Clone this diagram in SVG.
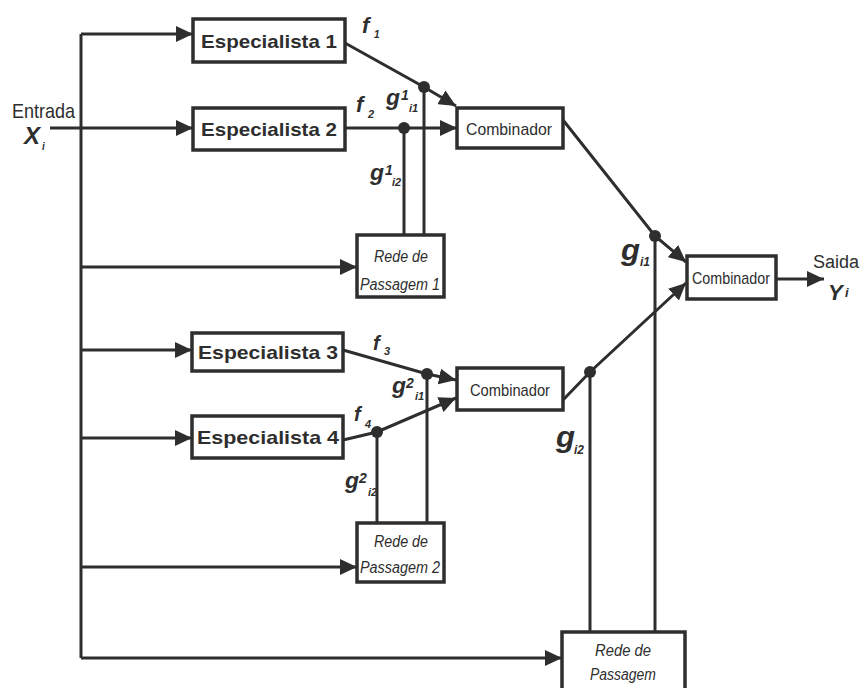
<svg xmlns="http://www.w3.org/2000/svg" width="864" height="688" viewBox="0 0 864 688">
<defs>
<marker id="arr" markerUnits="userSpaceOnUse" markerWidth="18" markerHeight="16" refX="17" refY="8" orient="auto">
<path d="M0,0 L17,8 L0,16 z" fill="#2e2e2e"/>
</marker>
</defs>
<style>
.box{fill:#fff;stroke:#2e2e2e;stroke-width:3.5}
.ln{fill:none;stroke:#2e2e2e;stroke-width:3}
.ar{fill:none;stroke:#2e2e2e;stroke-width:3;marker-end:url(#arr)}
.dot{fill:#2e2e2e}
.esp{font-family:"Liberation Sans",Arial,sans-serif;font-weight:bold;font-size:19px;fill:#2e2e2e;text-anchor:middle}
.cmb{font-family:"Liberation Sans",Arial,sans-serif;font-size:17px;fill:#2e2e2e;text-anchor:middle}
.rede{font-family:"Liberation Sans",Arial,sans-serif;font-style:italic;font-size:16px;fill:#2e2e2e;text-anchor:middle}
.lbl{font-family:"Liberation Sans",Arial,sans-serif;font-style:italic;font-weight:bold;fill:#2e2e2e}
.io{font-family:"Liberation Sans",Arial,sans-serif;font-size:21px;fill:#2e2e2e}
</style>
<rect width="864" height="688" fill="#fff"/>
<g id="connectors">
<path class="ln" d="M81,34 V658"/>
<path class="ar" d="M81,34 H193"/>
<path class="ar" d="M50,128 H193"/>
<path class="ar" d="M81,267 H357"/>
<path class="ar" d="M81,350 H192"/>
<path class="ar" d="M81,438 H192"/>
<path class="ar" d="M81,567 H357"/>
<path class="ar" d="M81,658 H562"/>
<path class="ar" d="M345,43 L424,87 L456,106"/>
<path class="ar" d="M345,128 H457"/>
<path class="ln" d="M404,128 V235 M424,87 V235"/>
<path class="ar" d="M563,120 L655,236 L686,262"/>
<path class="ln" d="M655,236 V632"/>
<path class="ar" d="M343,350 L427,374 L456,380"/>
<path class="ar" d="M343,440 L377,432 L456,398"/>
<path class="ln" d="M377,432 V523 M427,374 V523"/>
<path class="ar" d="M563,400 L590,372 L686,283"/>
<path class="ln" d="M590,372 V632"/>
<path class="ar" d="M776,279 H824"/>
<circle class="dot" cx="404" cy="128" r="6"/>
<circle class="dot" cx="424" cy="87" r="6"/>
<circle class="dot" cx="655" cy="236" r="6"/>
<circle class="dot" cx="427" cy="374" r="6"/>
<circle class="dot" cx="377" cy="432" r="6"/>
<circle class="dot" cx="590" cy="372" r="6"/>
</g>
<g id="esp1"><rect class="box" x="193" y="19" width="152" height="43"/><text class="esp" x="269" y="48" textLength="136" lengthAdjust="spacingAndGlyphs">Especialista 1</text></g>
<g id="esp2"><rect class="box" x="193" y="108" width="152" height="42"/><text class="esp" x="269" y="136" textLength="136" lengthAdjust="spacingAndGlyphs">Especialista 2</text></g>
<g id="esp3"><rect class="box" x="192" y="333" width="151" height="38"/><text class="esp" x="268" y="359" textLength="140" lengthAdjust="spacingAndGlyphs">Especialista 3</text></g>
<g id="esp4"><rect class="box" x="192" y="416" width="151" height="42"/><text class="esp" x="268" y="444" textLength="142" lengthAdjust="spacingAndGlyphs">Especialista 4</text></g>
<g id="comb1"><rect class="box" x="457" y="108" width="106" height="40"/><text class="cmb" x="509" y="135" textLength="86" lengthAdjust="spacingAndGlyphs">Combinador</text></g>
<g id="comb2"><rect class="box" x="457" y="368" width="106" height="42"/><text class="cmb" x="510" y="396" textLength="80" lengthAdjust="spacingAndGlyphs">Combinador</text></g>
<g id="comb3"><rect class="box" x="687" y="256" width="89" height="43"/><text class="cmb" x="731" y="284" textLength="78" lengthAdjust="spacingAndGlyphs">Combinador</text></g>
<g id="rede1"><rect class="box" x="357" y="235" width="87" height="62"/><text class="rede" x="401" y="262" textLength="54" lengthAdjust="spacingAndGlyphs">Rede de</text><text class="rede" x="400" y="290" textLength="80" lengthAdjust="spacingAndGlyphs">Passagem 1</text></g>
<g id="rede2"><rect class="box" x="357" y="523" width="87" height="59"/><text class="rede" x="401" y="547" textLength="54" lengthAdjust="spacingAndGlyphs">Rede de</text><text class="rede" x="400" y="573" textLength="80" lengthAdjust="spacingAndGlyphs">Passagem 2</text></g>
<g id="rede3"><rect class="box" x="562" y="632" width="123" height="70"/><text class="rede" x="623" y="656" textLength="56" lengthAdjust="spacingAndGlyphs">Rede de</text><text class="rede" x="623" y="680" textLength="66" lengthAdjust="spacingAndGlyphs">Passagem</text></g>
<g id="entrada"><text class="io" x="12" y="118" textLength="63" lengthAdjust="spacingAndGlyphs">Entrada</text><text class="lbl" x="24" y="144" font-size="24">X</text><text class="lbl" x="42" y="150" font-size="10">i</text></g>
<g id="saida"><text class="io" x="813" y="268" font-size="18" style="font-size:18px">Saida</text><text class="lbl" x="828" y="300" font-size="22">Y</text><text class="lbl" x="845" y="297" font-size="13">i</text></g>
<g id="labels">
<text class="lbl" x="362" y="33" font-size="22">f</text><text class="lbl" x="374" y="38" font-size="10">1</text>
<text class="lbl" x="356" y="112" font-size="22">f</text><text class="lbl" x="368" y="118" font-size="11">2</text>
<text class="lbl" x="373" y="350" font-size="20">f</text><text class="lbl" x="384" y="355" font-size="11">3</text>
<text class="lbl" x="354" y="421" font-size="20">f</text><text class="lbl" x="365" y="428" font-size="11">4</text>
<text class="lbl" x="386" y="105" font-size="22" textLength="14" lengthAdjust="spacingAndGlyphs">g</text><text class="lbl" x="401" y="100" font-size="14">1</text><text class="lbl" x="409" y="112" font-size="11">i1</text>
<text class="lbl" x="370" y="180" font-size="22" textLength="14" lengthAdjust="spacingAndGlyphs">g</text><text class="lbl" x="385" y="175" font-size="14">1</text><text class="lbl" x="392" y="186" font-size="11">i2</text>
<text class="lbl" x="392" y="393" font-size="22" textLength="14" lengthAdjust="spacingAndGlyphs">g</text><text class="lbl" x="406" y="388" font-size="14">2</text><text class="lbl" x="415" y="400" font-size="11">i1</text>
<text class="lbl" x="345" y="488" font-size="22" textLength="14" lengthAdjust="spacingAndGlyphs">g</text><text class="lbl" x="359" y="483" font-size="14">2</text><text class="lbl" x="368" y="496" font-size="11">i2</text>
<text class="lbl" x="621" y="260" font-size="30" textLength="19" lengthAdjust="spacingAndGlyphs">g</text><text class="lbl" x="640" y="266" font-size="12">i1</text>
<text class="lbl" x="556" y="447" font-size="30" textLength="19" lengthAdjust="spacingAndGlyphs">g</text><text class="lbl" x="574" y="454" font-size="12">i2</text>
</g>
</svg>
